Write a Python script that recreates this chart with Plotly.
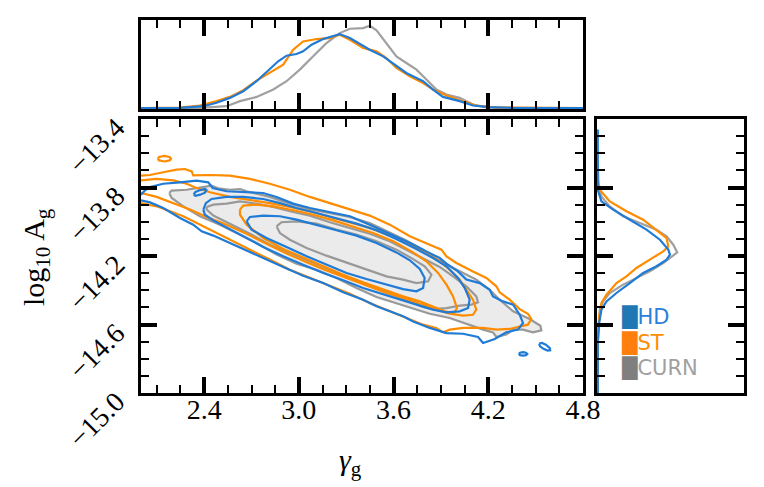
import plotly.graph_objects as go

# ---- colours ----
BLUE = '#1f7bd6'
ORANGE = '#ff8c00'
GRAY = '#999999'
FILL = '#ebebeb'

# ---- 2D credible contours (gamma_g, log10 A_g) ----
# CURN
curn_outer_x = [2.179, 2.194, 2.289, 2.384, 2.447, 2.489, 2.563, 2.627, 2.669, 2.816, 2.943, 3.070, 3.196, 3.323,
                3.449, 3.576, 3.681, 3.787, 3.871, 3.956, 4.040, 4.124, 4.209, 4.272, 4.357, 4.462, 4.530, 4.536,
                4.483, 4.420, 4.357, 4.314, 4.251, 4.230, 4.167, 4.082, 3.956, 3.829, 3.745, 3.618, 3.492, 3.365,
                3.238, 3.112, 2.985, 2.859, 2.732, 2.605, 2.500, 2.373, 2.268, 2.194, 2.179]
curn_outer_y = [-13.832, -13.818, -13.813, -13.797, -13.789, -13.805, -13.813, -13.809, -13.822, -13.855, -13.894,
                -13.926, -13.949, -13.972, -14.007, -14.062, -14.109, -14.163, -14.218, -14.260, -14.299, -14.338,
                -14.397, -14.455, -14.523, -14.568, -14.607, -14.634, -14.646, -14.630, -14.630, -14.659, -14.673,
                -14.646, -14.630, -14.601, -14.562, -14.537, -14.513, -14.478, -14.439, -14.387, -14.328, -14.280,
                -14.245, -14.192, -14.124, -14.066, -14.017, -13.968, -13.910, -13.861, -13.832]
curn_mid_x = [2.416, 2.458, 2.542, 2.627, 2.732, 2.838, 2.943, 3.070, 3.196, 3.323, 3.449, 3.576, 3.703, 3.808,
              3.892, 3.977, 4.061, 4.124, 4.135, 4.093, 4.019, 3.935, 3.850, 3.787, 3.703, 3.576, 3.449, 3.323,
              3.196, 3.070, 2.943, 2.816, 2.690, 2.563, 2.458, 2.416, 2.416]
curn_mid_y = [-13.914, -13.900, -13.894, -13.881, -13.894, -13.914, -13.939, -13.964, -14.003, -14.036, -14.070,
              -14.114, -14.173, -14.225, -14.264, -14.319, -14.377, -14.436, -14.471, -14.484, -14.490, -14.504,
              -14.510, -14.498, -14.465, -14.420, -14.377, -14.328, -14.280, -14.231, -14.186, -14.134, -14.070,
              -14.011, -13.964, -13.929, -13.914]
curn_in_x = [2.859, 2.890, 2.985, 3.112, 3.238, 3.365, 3.492, 3.618, 3.724, 3.797, 3.840, 3.819, 3.745, 3.660,
             3.555, 3.428, 3.302, 3.175, 3.049, 2.943, 2.880, 2.859]
curn_in_y = [-14.027, -14.003, -13.998, -14.011, -14.046, -14.075, -14.114, -14.163, -14.218, -14.260, -14.309,
             -14.348, -14.358, -14.338, -14.319, -14.280, -14.237, -14.198, -14.153, -14.105, -14.066, -14.027]

# HD
hd_outer_x = [2.000, 2.025, 2.057, 2.141, 2.247, 2.352, 2.426, 2.454, 2.542, 2.648, 2.774, 2.859, 2.964, 3.070,
              3.196, 3.323, 3.449, 3.576, 3.703, 3.808, 3.892, 3.935, 4.008, 4.061, 4.146, 4.209, 4.230, 4.293,
              4.357, 4.399, 4.420, 4.388, 4.314, 4.241, 4.167, 4.135, 4.040, 3.935, 3.829, 3.724, 3.660, 3.576,
              3.492, 3.407, 3.281, 3.154, 3.027, 2.901, 2.774, 2.648, 2.542, 2.458, 2.384, 2.331, 2.247, 2.141,
              2.057, 2.000]
hd_outer_y = [-13.842, -13.817, -13.797, -13.778, -13.770, -13.760, -13.770, -13.803, -13.822, -13.828, -13.832,
              -13.855, -13.894, -13.920, -13.945, -13.968, -14.017, -14.070, -14.124, -14.173, -14.212, -14.245,
              -14.290, -14.338, -14.358, -14.397, -14.436, -14.465, -14.484, -14.543, -14.591, -14.630, -14.646,
              -14.685, -14.708, -14.673, -14.654, -14.650, -14.620, -14.582, -14.552, -14.523, -14.494, -14.455,
              -14.412, -14.358, -14.315, -14.264, -14.212, -14.159, -14.114, -14.081, -14.056, -14.017, -13.978,
              -13.920, -13.887, -13.875]
hd_mid_x = [2.395, 2.411, 2.447, 2.542, 2.648, 2.774, 2.880, 2.985, 3.112, 3.238, 3.365, 3.492, 3.618, 3.745,
            3.850, 3.935, 4.008, 4.051, 4.082, 4.072, 4.019, 3.935, 3.850, 3.766, 3.660, 3.534, 3.407, 3.281,
            3.154, 3.027, 2.901, 2.774, 2.648, 2.542, 2.458, 2.405, 2.395]
hd_mid_y = [-13.929, -13.891, -13.867, -13.855, -13.855, -13.867, -13.891, -13.920, -13.949, -13.978, -14.011,
            -14.050, -14.101, -14.159, -14.212, -14.260, -14.328, -14.387, -14.455, -14.504, -14.523, -14.529,
            -14.513, -14.490, -14.459, -14.426, -14.387, -14.342, -14.299, -14.251, -14.202, -14.147, -14.085,
            -14.031, -13.992, -13.959, -13.929]
hd_in_x = [2.669, 2.690, 2.774, 2.880, 2.985, 3.112, 3.238, 3.365, 3.492, 3.618, 3.703, 3.766, 3.797, 3.787,
           3.745, 3.660, 3.555, 3.428, 3.302, 3.175, 3.049, 2.922, 2.795, 2.700, 2.669]
hd_in_y = [-13.998, -13.972, -13.964, -13.968, -13.988, -14.017, -14.050, -14.081, -14.124, -14.179, -14.225,
           -14.276, -14.328, -14.387, -14.406, -14.393, -14.367, -14.334, -14.299, -14.251, -14.202, -14.147,
           -14.095, -14.046, -13.998]
hd_isl1_x = [2.333, 2.345, 2.375, 2.405, 2.415, 2.405, 2.375, 2.345, 2.333]
hd_isl1_y = [-13.840, -13.826, -13.815, -13.808, -13.815, -13.830, -13.842, -13.848, -13.840]
hd_isl2_x = [4.393, 4.401, 4.420, 4.439, 4.447, 4.439, 4.420, 4.401, 4.393]
hd_isl2_y = [-14.772, -14.765, -14.762, -14.765, -14.772, -14.779, -14.782, -14.779, -14.772]
hd_isl3_x = [4.522, 4.540, 4.565, 4.590, 4.592, 4.575, 4.550, 4.528, 4.522]
hd_isl3_y = [-14.712, -14.708, -14.718, -14.738, -14.750, -14.752, -14.742, -14.728, -14.712]

# ST
st_outer_x = [2.000, 2.057, 2.141, 2.226, 2.278, 2.321, 2.331, 2.437, 2.563, 2.690, 2.816, 2.943, 3.070, 3.196,
              3.323, 3.449, 3.576, 3.703, 3.829, 3.903, 3.935, 3.998, 4.103, 4.188, 4.251, 4.272, 4.335, 4.399,
              4.451, 4.473, 4.451, 4.399, 4.335, 4.251, 4.167, 4.040, 3.956, 3.913, 3.871, 3.787, 3.681, 3.576,
              3.449, 3.323, 3.196, 3.070, 2.943, 2.816, 2.690, 2.563, 2.458, 2.352, 2.268, 2.184, 2.099, 2.000]
st_outer_y = [-13.731, -13.727, -13.711, -13.696, -13.692, -13.706, -13.729, -13.727, -13.731, -13.750, -13.778,
              -13.813, -13.855, -13.891, -13.926, -13.964, -14.017, -14.085, -14.134, -14.163, -14.202, -14.241,
              -14.290, -14.328, -14.377, -14.412, -14.455, -14.510, -14.537, -14.568, -14.601, -14.611, -14.626,
              -14.630, -14.620, -14.620, -14.630, -14.646, -14.620, -14.601, -14.562, -14.523, -14.474, -14.420,
              -14.373, -14.328, -14.280, -14.221, -14.163, -14.105, -14.056, -14.007, -13.968, -13.939, -13.910,
              -13.891]
st_mid_x = [2.000, 2.099, 2.205, 2.289, 2.352, 2.437, 2.563, 2.690, 2.816, 2.943, 3.070, 3.196, 3.323, 3.449,
            3.576, 3.703, 3.808, 3.892, 3.956, 4.019, 4.061, 4.103, 4.124, 4.103, 4.040, 3.956, 3.871, 3.787,
            3.681, 3.555, 3.428, 3.302, 3.175, 3.049, 2.922, 2.795, 2.669, 2.542, 2.416, 2.310, 2.205, 2.099,
            2.000]
st_mid_y = [-13.758, -13.750, -13.758, -13.778, -13.803, -13.828, -13.855, -13.871, -13.891, -13.914, -13.939,
            -13.972, -14.003, -14.036, -14.081, -14.134, -14.182, -14.231, -14.280, -14.338, -14.397, -14.455,
            -14.513, -14.543, -14.548, -14.537, -14.513, -14.484, -14.451, -14.416, -14.373, -14.328, -14.284,
            -14.237, -14.186, -14.128, -14.070, -14.017, -13.972, -13.929, -13.891, -13.855, -13.832]
st_in_x = [2.627, 2.648, 2.732, 2.838, 2.964, 3.091, 3.217, 3.344, 3.470, 3.597, 3.713, 3.808, 3.882, 3.935,
           3.977, 4.002, 3.981, 3.924, 3.850, 3.766, 3.660, 3.534, 3.407, 3.281, 3.154, 3.027, 2.901, 2.774,
           2.669, 2.627, 2.627]
st_in_y = [-13.929, -13.906, -13.900, -13.910, -13.933, -13.959, -13.992, -14.027, -14.066, -14.114, -14.173,
           -14.231, -14.299, -14.367, -14.436, -14.504, -14.533, -14.523, -14.494, -14.465, -14.436, -14.397,
           -14.354, -14.309, -14.260, -14.212, -14.159, -14.095, -14.017, -13.959, -13.929]
st_isl_x = [2.106, 2.115, 2.148, 2.181, 2.190, 2.181, 2.148, 2.115, 2.106]
st_isl_y = [-13.632, -13.622, -13.616, -13.622, -13.632, -13.642, -13.648, -13.642, -13.632]

# ---- 1D marginals of gamma_g (top panel) ----
g_curn_x = [2.000, 2.352, 2.542, 2.627, 2.732, 2.838, 2.922, 3.006, 3.091, 3.175, 3.259, 3.323, 3.407, 3.449,
            3.492, 3.555, 3.618, 3.681, 3.745, 3.808, 3.871, 3.935, 4.019, 4.103, 4.167, 4.251, 4.800]
g_curn_p = [0.0, 0.0, 0.024, 0.085, 0.137, 0.226, 0.327, 0.468, 0.629, 0.790, 0.911, 0.964, 0.972, 1.0,
            0.944, 0.790, 0.629, 0.548, 0.468, 0.347, 0.226, 0.165, 0.125, 0.044, 0.016, 0.004, 0.0]
g_hd_x = [2.000, 2.247, 2.395, 2.479, 2.563, 2.648, 2.732, 2.816, 2.869, 2.922, 2.985, 3.027, 3.080, 3.154,
          3.217, 3.259, 3.323, 3.407, 3.449, 3.534, 3.618, 3.681, 3.745, 3.787, 3.850, 3.913, 4.019, 4.103,
          4.209, 4.357, 4.800]
g_hd_p = [0.0, 0.004, 0.024, 0.065, 0.125, 0.206, 0.327, 0.468, 0.569, 0.637, 0.657, 0.690, 0.770, 0.839,
          0.879, 0.899, 0.851, 0.750, 0.710, 0.629, 0.508, 0.427, 0.367, 0.327, 0.226, 0.137, 0.085, 0.032,
          0.012, 0.004, 0.0]
g_st_x = [2.000, 2.247, 2.373, 2.479, 2.563, 2.648, 2.732, 2.816, 2.901, 2.964, 3.027, 3.112, 3.196, 3.259,
          3.323, 3.407, 3.492, 3.555, 3.618, 3.703, 3.787, 3.850, 3.935, 4.019, 4.124, 4.251, 4.800]
g_st_p = [0.0, 0.008, 0.032, 0.085, 0.137, 0.218, 0.335, 0.427, 0.528, 0.710, 0.810, 0.839, 0.851, 0.891,
          0.831, 0.730, 0.690, 0.609, 0.488, 0.387, 0.306, 0.226, 0.153, 0.097, 0.032, 0.008, 0.0]

# ---- 1D marginals of log10 A_g (right panel) ----
a_curn_y = [-13.637, -13.735, -13.774, -13.852, -13.910, -13.968, -14.007, -14.046, -14.085, -14.134, -14.179,
            -14.202, -14.241, -14.290, -14.328, -14.367, -14.416, -14.465, -14.513, -14.611, -14.708, -15.0]
a_curn_p = [0.0, 0.0, 0.008, 0.046, 0.151, 0.319, 0.529, 0.739, 0.866, 0.950, 1.0, 0.929, 0.824, 0.655,
            0.487, 0.319, 0.151, 0.067, 0.025, 0.008, 0.0, 0.0]
a_hd_y = [-13.462, -13.813, -13.881, -13.929, -13.988, -14.046, -14.105, -14.163, -14.192, -14.221, -14.260,
          -14.299, -14.358, -14.416, -14.465, -14.513, -14.591, -14.708, -15.0]
a_hd_p = [0.0, 0.0, 0.046, 0.193, 0.403, 0.613, 0.782, 0.887, 0.908, 0.866, 0.739, 0.571, 0.403, 0.235,
          0.109, 0.046, 0.017, 0.0, 0.0]
a_st_y = [-13.754, -13.813, -13.881, -13.939, -13.988, -14.046, -14.095, -14.144, -14.173, -14.221, -14.270,
          -14.319, -14.358, -14.426, -14.474, -14.552, -14.669, -15.0]
a_st_p = [0.0, 0.025, 0.151, 0.361, 0.571, 0.739, 0.866, 0.887, 0.824, 0.655, 0.487, 0.361, 0.235, 0.109,
          0.046, 0.017, 0.0, 0.0]

x_ticks = [2.4, 3.0, 3.6, 4.2, 4.8]
y_ticks = [-15.0, -14.6, -14.2, -13.8, -13.4]
# trailing no-break space nudges the rotated labels down along their diagonal
y_tick_labels = ['−15.0\u00a0', '−14.6\u00a0', '−14.2\u00a0', '−13.8\u00a0', '−13.4\u00a0']
x_range = [2.0, 4.8]
y_range = [-15.0, -13.4]

LW = 2.2
fig = go.Figure()


def line(x, y, color, xa='x', ya='y', **kw):
    fig.add_trace(go.Scatter(x=x, y=y, mode='lines', line=dict(color=color, width=LW),
                             xaxis=xa, yaxis=ya, showlegend=False, hoverinfo='skip', **kw))


# main panel: gray filled region first, then contour lines
line(curn_outer_x, curn_outer_y, GRAY, fill='toself', fillcolor=FILL)
line(curn_mid_x, curn_mid_y, GRAY)
line(curn_in_x, curn_in_y, GRAY)
for xs, ys in [(st_outer_x, st_outer_y), (st_mid_x, st_mid_y), (st_in_x, st_in_y), (st_isl_x, st_isl_y)]:
    line(xs, ys, ORANGE)
for xs, ys in [(hd_outer_x, hd_outer_y), (hd_mid_x, hd_mid_y), (hd_in_x, hd_in_y),
               (hd_isl1_x, hd_isl1_y), (hd_isl2_x, hd_isl2_y), (hd_isl3_x, hd_isl3_y)]:
    line(xs, ys, BLUE)

# top marginal
line(g_curn_x, g_curn_p, '#a0a0a0', 'x2', 'y2')
line(g_st_x, g_st_p, ORANGE, 'x2', 'y2')
line(g_hd_x, g_hd_p, BLUE, 'x2', 'y2')

# right marginal
line(a_curn_p, a_curn_y, '#a0a0a0', 'x3', 'y3')
line(a_st_p, a_st_y, ORANGE, 'x3', 'y3')
line(a_hd_p, a_hd_y, BLUE, 'x3', 'y3')

SERIF = 'Liberation Serif'
frame = dict(showline=True, linewidth=3, linecolor='black', showgrid=False, zeroline=False, automargin=False)
major = dict(ticks='inside', ticklen=16, tickwidth=3.5, tickcolor='black', mirror='allticks')

# the page body keeps an 8px margin, so the figure is 8px smaller and positions are shifted by it
OFF = 8
W, H = 764 - OFF, 487 - OFF


def px(v):
    return (v - OFF) / W


def py(v):
    return 1 - (v - OFF) / H


dom_x = [px(141), px(583)]
dom_y = [py(393), py(119)]

fig.update_layout(
    template='none',
    width=W, height=H,
    margin=dict(l=0, r=0, t=0, b=0),
    paper_bgcolor='white', plot_bgcolor='white',
    showlegend=False,
    xaxis=dict(**frame, **major, domain=dom_x, range=x_range, tickvals=x_ticks, tickformat='.1f',
               tickfont=dict(family=SERIF, size=28, color='black'), anchor='y', ticklabelstandoff=-11,
               minor=dict(ticks='inside', ticklen=8, tickwidth=1.5, tickcolor='black', dtick=0.15, tick0=2.4)),
    yaxis=dict(**frame, **major, domain=dom_y, range=y_range, tickvals=y_ticks, ticktext=y_tick_labels,
               tickangle=-45, tickfont=dict(family=SERIF, size=28, color='black'), anchor='x',
               ticklabelstandoff=11,
               minor=dict(ticks='inside', ticklen=8, tickwidth=1.5, tickcolor='black', dtick=0.1, tick0=-15.0)),
    xaxis2=dict(**frame, **major, domain=dom_x, range=x_range, tickvals=x_ticks, showticklabels=False,
                anchor='y2',
                minor=dict(ticks='inside', ticklen=8, tickwidth=1.5, tickcolor='black', dtick=0.15, tick0=2.4)),
    yaxis2=dict(**frame, mirror=True, domain=[py(109), py(20)], range=[-0.01, 1.07],
                ticks='', showticklabels=False, anchor='x2'),
    xaxis3=dict(**frame, mirror=True, domain=[px(597), px(744)], range=[-0.01, 1.84],
                ticks='', showticklabels=False, anchor='y3'),
    yaxis3=dict(**frame, **major, domain=dom_y, range=y_range, tickvals=y_ticks, showticklabels=False,
                anchor='x3',
                minor=dict(ticks='inside', ticklen=8, tickwidth=1.5, tickcolor='black', dtick=0.1, tick0=-15.0)),
)

# axis titles
fig.add_annotation(text='<i>γ</i><sub>g</sub>', xref='paper', yref='paper', x=px(350), y=py(462),
                   xanchor='center', yanchor='middle',
                   showarrow=False, font=dict(family=SERIF, size=30, color='black'))
fig.add_annotation(text='log<sub>10</sub> A<sub>g</sub>', xref='paper', yref='paper', x=px(36), y=py(257),
                   xanchor='center', yanchor='middle',
                   textangle=-90, showarrow=False, font=dict(family=SERIF, size=30, color='black'))

# legend
legend_rows = [('HD', '#1f77b4', '#2a80d8', 317), ('ST', '#ff7f0e', '#ff8c00', 343),
               ('CURN', '#7f7f7f', '#a0a0a0', 368)]
for name, sq, tc, row_y in legend_rows:
    fig.add_annotation(
        text=f'<span style="color:{sq};font-size:20px">█</span><span style="color:{tc}">{name}</span>',
        xref='paper', yref='paper', x=px(619), y=py(row_y), xanchor='left', yanchor='middle',
        showarrow=False, font=dict(family='DejaVu Sans', size=21))

fig.write_html('out.html')
